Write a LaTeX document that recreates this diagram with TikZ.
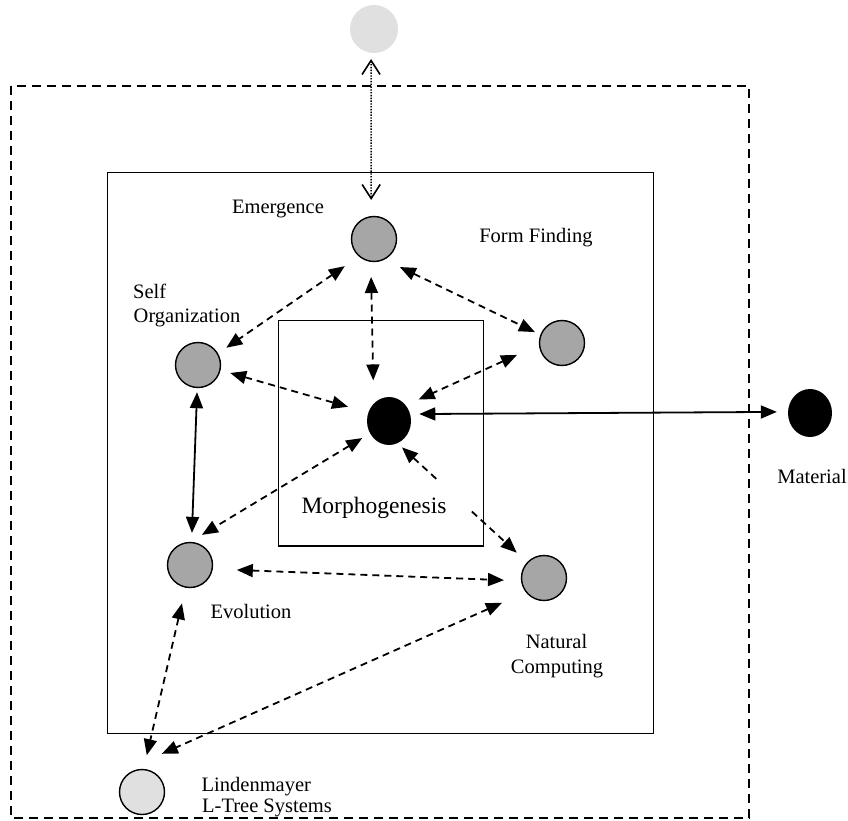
\documentclass[tikz,border=0pt]{standalone}
\usepackage{fontspec}
\setmainfont{Liberation Serif}
\usetikzlibrary{arrows.meta,calc,shapes.geometric}
\definecolor{hubgray}{RGB}{166,166,166}
\definecolor{palegray}{RGB}{224,224,224}

\begin{document}
\begin{tikzpicture}[x=1pt,y=-1pt,
  hub/.style={circle,draw=black,line width=1.4pt,fill=hubgray,minimum size=45pt,inner sep=0pt},
  core/.style={ellipse,fill=black,minimum width=44pt,minimum height=48pt,inner sep=0pt},
  ghost/.style={circle,fill=palegray,minimum size=48pt,inner sep=0pt},
  seed/.style={circle,draw=black,line width=1.4pt,fill=palegray,minimum size=45pt,inner sep=0pt},
  lbl/.style={font=\fontsize{20.5}{24}\selectfont,inner sep=0pt},
  link/.style={line width=1.8pt,dash pattern=on 7pt off 5pt,
    {Triangle[length=16pt,width=13pt]}-{Triangle[length=16pt,width=13pt]}},
  firm/.style={line width=1.8pt,
    {Triangle[length=16pt,width=13pt]}-{Triangle[length=16pt,width=13pt]}},
  faint/.style={line width=1.6pt,dash pattern=on 1.4pt off 1.4pt,
    {Straight Barb[length=14pt,width=18pt]}-{Straight Barb[length=14pt,width=18pt]}},
]
\useasboundingbox (0,0) rectangle (848,821);

% frames
\draw[line width=1.5pt,dash pattern=on 9pt off 6pt] (11,86) rectangle (749,818);
\draw[line width=1.6pt] (107.5,172.5) rectangle (653.5,733.5);
\draw[line width=1.6pt] (278.5,320.5) rectangle (483.5,546);

% nodes
\node[ghost] (top) at (374,29) {};
\node[hub] (emg) at (374,239) {};
\node[hub] (ff) at (562,343) {};
\node[hub] (so) at (198,365) {};
\node[core] (morph) at (389,421) {};
\node[core] (mat) at (810,413) {};
\node[hub] (evo) at (190,565) {};
\node[hub] (nc) at (544,578) {};
\node[seed] (lind) at (142,792) {};

% labels
\node[lbl,anchor=base] (tEmg) at (278,213) {Emergence};
\node[lbl,anchor=base] (tFF) at (536,242) {Form Finding};
\node[lbl,anchor=base west] (tSO1) at (133,298) {Self};
\node[lbl,anchor=base west] (tSO2) at (133.5,322) {Organization};
\node[lbl,anchor=base,font=\fontsize{23.5}{28}\selectfont] (tMorph) at (374,513) {Morphogenesis};
\node[lbl,anchor=base] (tEvo) at (251,618) {Evolution};
\node[lbl,anchor=base] (tNC1) at (556.5,648) {Natural};
\node[lbl,anchor=base] (tNC2) at (557,673) {Computing};
\node[lbl,anchor=base west] (tL1) at (201.5,791) {Lindenmayer};
\node[lbl,anchor=base west] (tL2) at (202,812) {L-Tree Systems};
\node[lbl,anchor=base] (tMat) at (812,483) {Material};

% connectors
\draw[faint,shorten <=6pt,shorten >=16pt] (top.263) -- (emg.97);
\draw[link,shorten <=17pt,shorten >=10pt] (emg.229) -- (so.30);
\draw[link,shorten <=17pt,shorten >=6pt] (emg.297) -- (ff.159);
\draw[link,shorten <=15pt,shorten >=23pt] (emg.262) -- (morph.131);
\draw[link,shorten <=24pt,shorten >=14pt] (ff.185) -- (morph.43);
\draw[link,shorten <=10pt,shorten >=21pt] (so.347) -- (morph.158);
\draw[firm,shorten <=4pt,shorten >=9pt] (so.268) -- (evo.86);
\draw[link,shorten <=9pt,shorten >=13.5pt] (morph.213) -- (evo.89);
\draw[link,-,{Triangle[length=16pt,width=13pt]}-,shorten <=6pt]
  (morph.291) -- ($(morph.291)!0.304!(nc.137)$);
\draw[link,-,-{Triangle[length=16pt,width=13pt]},shorten >=14pt]
  ($(morph.291)!0.574!(nc.137)$) -- (nc.137);
\draw[link,shorten <=24pt,shorten >=17pt] (evo.350) -- (nc.187);
\draw[link,shorten <=16pt,shorten >=14pt] (evo.259) -- (lind.86);
\draw[link,shorten <=26pt,shorten >=37pt] (nc.218) -- ([xshift=-14pt]lind.north);
\draw[firm,shorten <=9pt,shorten >=11pt] (morph.18) -- (mat.177);
\end{tikzpicture}
\end{document}
